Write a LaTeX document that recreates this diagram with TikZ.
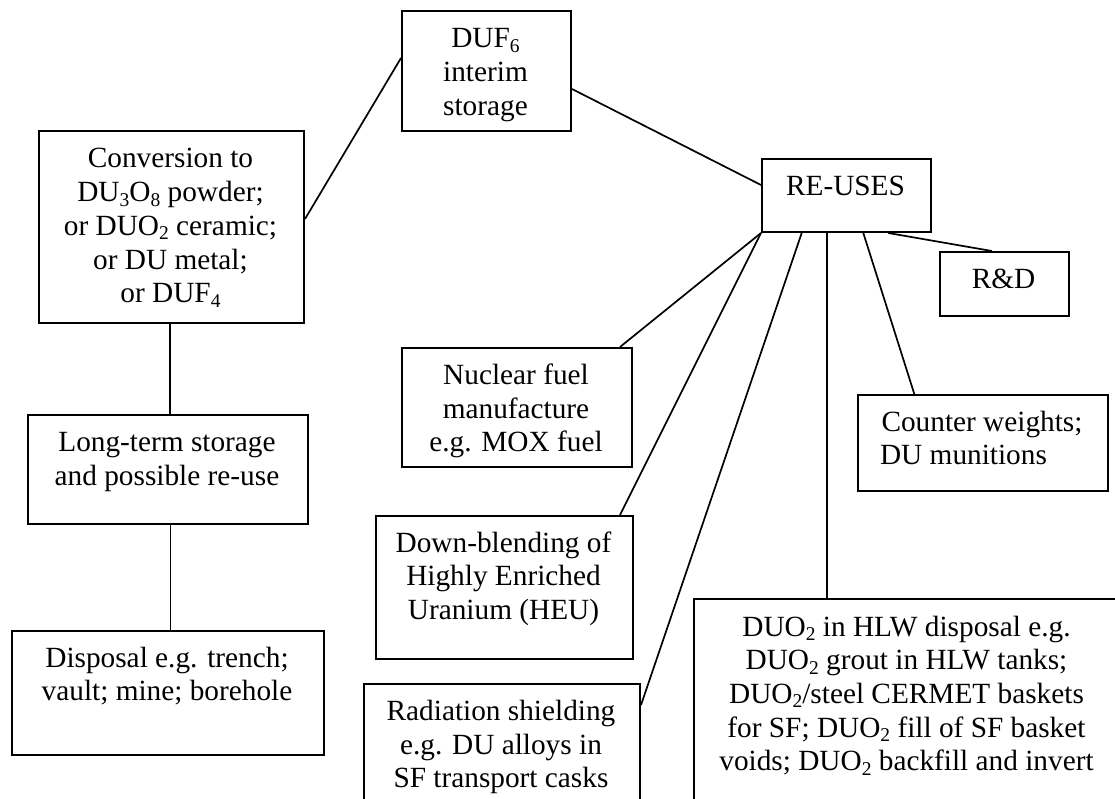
\documentclass[tikz,border=0pt]{standalone}
\usepackage{fontspec}
\setmainfont{Liberation Serif}
% subscript figure in chemical formulae
\newcommand\dsub[1]{\raisebox{-4.5pt}{\fontsize{19.5}{19.5}\selectfont #1}}
% centred multi-line text whose anchor is the first baseline
\newcommand\txt[1]{\parbox[t]{460pt}{\centering #1}}
\begin{document}
\begin{tikzpicture}[x=1pt,y=-1pt,
  box/.style={draw, line width=2pt, inner sep=0pt, anchor=north west},
  wire/.style={line width=1.7pt},
  lbl/.style={anchor=base, inner sep=0pt, font=\fontsize{29.3}{33.7}\selectfont}]
\useasboundingbox (0,0) rectangle (1115,799);
\clip (0,0) rectangle (1115,799);
\fill[white] (0,0) rectangle (1115,799);

% frames
\node[box, minimum width=169pt, minimum height=120pt] (duf)    at (401,10)  {};
\node[box, minimum width=265pt, minimum height=192pt] (conv)   at (38,130)  {};
\node[box, minimum width=169pt, minimum height=73pt]  (reuse)  at (761,158) {};
\node[box, minimum width=129pt, minimum height=64pt]  (rd)     at (939,251) {};
\node[box, minimum width=280pt, minimum height=109pt] (lts)    at (27,414)  {};
\node[box, minimum width=312pt, minimum height=124pt] (disp)   at (11,630)  {};
\node[box, minimum width=230pt, minimum height=119pt] (nuc)    at (401,347) {};
\node[box, minimum width=257pt, minimum height=143pt] (blend)  at (375,515) {};
\node[box, minimum width=276pt, minimum height=160pt] (shield) at (363,683) {};
\node[box, minimum width=250pt, minimum height=96pt]  (cw)     at (857,394) {};
\node[box, minimum width=427pt, minimum height=240pt] (duo)    at (693,597.5) {};

% texts
\node[lbl] (tduf)    at (485.5,48)  {\txt{DUF\dsub{6}\\interim\\storage}};
\node[lbl] (tconv)   at (170.5,168) {\txt{Conversion to\\DU\dsub{3}O\dsub{8} powder;\\or DUO\dsub{2} ceramic;\\or DU metal;\\or DUF\dsub{4}}};
\node[lbl] (treuse)  at (845.5,195.5) {\txt{RE-USES}};
\node[lbl] (trd)     at (1003.5,288.5) {\txt{R\&D}};
\node[lbl] (tlts)    at (167,451.5) {\txt{Long-term storage\\and possible re-use}};
\node[lbl] (tdisp)   at (167,667)   {\txt{Disposal e.g. trench;\\vault; mine; borehole}};
\node[lbl] (tnuc)    at (516,384.5) {\txt{Nuclear fuel\\manufacture\\e.g. MOX fuel}};
\node[lbl] (tblend)  at (503.5,552) {\txt{Down-blending of\\Highly Enriched\\Uranium (HEU)}};
\node[lbl] (tshield) at (501,720.5) {\txt{Radiation shielding\\e.g. DU alloys in\\SF transport casks}};
\node[lbl] (tcw)     at (982,431)   {\txt{Counter weights;\\DU munitions\kern37pt}};
\node[lbl] (tduo)    at (906.5,636) {\txt{DUO\dsub{2} in HLW disposal e.g.\\DUO\dsub{2} grout in HLW tanks;\\DUO\dsub{2}/steel CERMET baskets\\for SF; DUO\dsub{2} fill of SF basket\\voids; DUO\dsub{2} backfill and invert}};

% connectors
\draw[wire] ([yshift=8pt]conv.east) -- ([yshift=13pt]duf.west);
\draw[wire] ([yshift=-18pt]duf.east) -- ([yshift=10.5pt]reuse.west);
\draw[wire] ([xshift=-1.5pt]conv.south) -- ([xshift=-1.5pt]conv.south |- lts.north);
\draw[wire] ([xshift=2.5pt]lts.south) -- ([xshift=2.5pt]lts.south |- disp.north);
\draw[wire] (reuse.south west) -- ([xshift=-13pt]nuc.north east);
\draw[wire] (reuse.south west) -- ([xshift=-14pt]blend.north east);
\draw[wire] ([xshift=40.7pt]reuse.south west) -- ([yshift=-22pt]shield.north east);
\draw[wire] ([xshift=66.3pt]reuse.south west) -- ([xshift=66.3pt]reuse.south west |- duo.north);
\draw[wire] ([xshift=102.3pt]reuse.south west) -- ([xshift=57.3pt]cw.north west);
\draw[wire] ([xshift=127.3pt]reuse.south west) -- ([xshift=52.7pt]rd.north west);
\end{tikzpicture}
\end{document}
